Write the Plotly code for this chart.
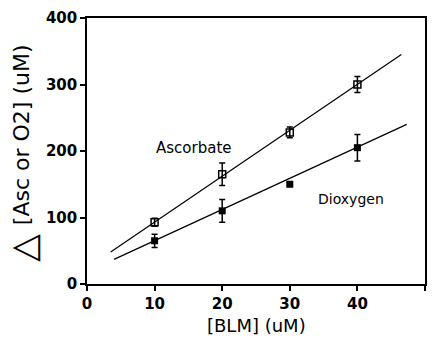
import plotly.graph_objects as go

blm = [10, 20, 30, 40]
asc = [93, 165, 228, 300]
asc_err = [6, 17, 8, 12]
diox = [65, 110, 150, 205]
diox_err = [10, 17, 3, 20]

asc_fit_x = [3.5, 46.5]
asc_fit_y = [48, 345]
diox_fit_x = [4.0, 47.3]
diox_fit_y = [37, 240]

xticks = [0, 10, 20, 30, 40, 50]
yticks = [0, 100, 200, 300, 400]

FONT = "DejaVu Sans"

fig = go.Figure()
fig.add_trace(go.Scatter(x=asc_fit_x, y=asc_fit_y, mode="lines",
                         line=dict(color="black", width=1.2), showlegend=False))
fig.add_trace(go.Scatter(x=diox_fit_x, y=diox_fit_y, mode="lines",
                         line=dict(color="black", width=1.2), showlegend=False))
fig.add_trace(go.Scatter(x=blm, y=asc, mode="markers",
                         marker=dict(symbol="square-open", size=7, color="black",
                                     line=dict(width=1.5, color="black")),
                         error_y=dict(type="data", array=asc_err, color="black",
                                      thickness=1.5, width=3),
                         showlegend=False))
fig.add_trace(go.Scatter(x=blm, y=diox, mode="markers",
                         marker=dict(symbol="square", size=7, color="black"),
                         error_y=dict(type="data", array=diox_err, color="black",
                                      thickness=1.5, width=3),
                         showlegend=False))

fig.add_annotation(x=15.9, y=204, text="Ascorbate", showarrow=False,
                   font=dict(family=FONT, size=15, color="black"))
fig.add_annotation(x=39.1, y=128, text="Dioxygen", showarrow=False,
                   font=dict(family=FONT, size=14, color="black"))

# y-axis title: big delta + bracketed text
fig.add_annotation(xref="paper", yref="paper", x=-0.19, y=0.135,
                   text="△", textangle=-90, showarrow=False,
                   xanchor="center", yanchor="middle",
                   font=dict(family=FONT, size=36, color="black"))
fig.add_annotation(xref="paper", yref="paper", x=-0.195, y=0.56,
                   text="[Asc or O2] (uM)",
                   textangle=-90, showarrow=False, xanchor="center", yanchor="middle",
                   font=dict(family=FONT, size=22, color="black"))
fig.add_annotation(xref="paper", yref="paper", x=0.5, y=-0.155,
                   text="[BLM] (uM)", showarrow=False, xanchor="center", yanchor="middle",
                   font=dict(family=FONT, size=18, color="black"))

fig.update_layout(
    width=435, height=338,
    margin=dict(l=87, r=10, t=18, b=54),
    paper_bgcolor="white", plot_bgcolor="white",
    font=dict(family=FONT, color="black"),
)
fig.update_xaxes(range=[0, 50], tickvals=xticks, ticks="outside", ticklen=5,
                 tickwidth=1.5, tickcolor="black", automargin=False,
                 showline=True, linecolor="black", linewidth=1.5, mirror=True,
                 showgrid=False, zeroline=False,
                 tickfont=dict(size=15, family="DejaVu Sans, sans-serif", weight="bold"))
fig.update_yaxes(range=[0, 400], tickvals=yticks, ticks="outside", ticklen=5,
                 tickwidth=1.5, tickcolor="black", automargin=False,
                 showline=True, linecolor="black", linewidth=1.5, mirror=True,
                 showgrid=False, zeroline=False,
                 tickfont=dict(size=15, family="DejaVu Sans, sans-serif", weight="bold"))

fig.write_html("out.html", config={"displayModeBar": False},
               post_script="document.body.style.margin='0';document.body.style.overflow='hidden';")
